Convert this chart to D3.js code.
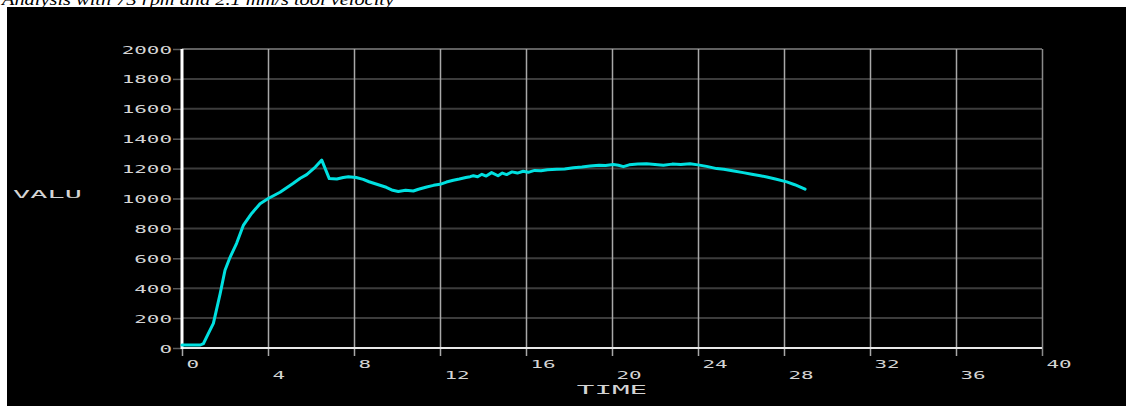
<!DOCTYPE html>
<html>
<head>
<meta charset="utf-8">
<script src="https://cdn.jsdelivr.net/npm/d3@7/dist/d3.min.js"></script>
<style>
  html, body { margin: 0; padding: 0; background: #fff; }
  svg { display: block; }
</style>
</head>
<body>
<svg id="chart" width="1126" height="406"></svg>
<script>
// Spindle response over time
const time = [0, 0.85, 1.0, 1.2, 1.46, 1.77, 2.0, 2.23, 2.54, 2.85, 3.24, 3.63, 4.01, 4.56, 5.16, 5.5, 5.8, 6.2, 6.5,
  6.85, 7.2, 7.5, 7.74, 8.1, 8.43, 8.7, 9.06, 9.5, 9.8, 10.06, 10.4, 10.76, 11.0, 11.38, 11.7, 12.0, 12.3, 12.62,
  12.9, 13.2, 13.4, 13.55, 13.75, 13.95, 14.15, 14.4, 14.7, 14.9, 15.1, 15.35, 15.6, 15.87, 16.1, 16.4, 16.7, 17.0,
  17.43, 17.8, 18.2, 18.6, 18.98, 19.4, 19.7, 20.06, 20.3, 20.53, 20.8, 21.2, 21.61, 22.0, 22.39, 22.8, 23.2, 23.63,
  24.0, 24.4, 24.87, 25.2, 25.6, 26.1, 26.5, 26.9, 27.2, 27.6, 28.13, 28.5, 28.98];
const valu = [20, 20, 30, 90, 165, 360, 520, 605, 700, 820, 900, 965, 1000, 1042, 1100, 1135, 1160, 1210, 1257,
  1133, 1130, 1140, 1145, 1140, 1128, 1112, 1095, 1075, 1055, 1047, 1055, 1050, 1062, 1077, 1088, 1095, 1110, 1122,
  1130, 1140, 1146, 1152, 1145, 1162, 1150, 1173, 1152, 1170, 1160, 1178, 1170, 1182, 1175, 1188, 1185, 1192,
  1195, 1198, 1205, 1210, 1217, 1222, 1220, 1227, 1222, 1213, 1225, 1230, 1233, 1228, 1222, 1230, 1228, 1233,
  1225, 1215, 1200, 1195, 1185, 1173, 1162, 1152, 1144, 1130, 1111, 1092, 1062];

const xTicks = [0, 4, 8, 12, 16, 20, 24, 28, 32, 36, 40];
const xTickLabels = ["0", "4", "8", "12", "16", "20", "24", "28", "32", "36", "40"];
const yTicks = [0, 200, 400, 600, 800, 1000, 1200, 1400, 1600, 1800, 2000];
const yTickLabels = ["0", "200", "400", "600", "800", "1000", "1200", "1400", "1600", "1800", "2000"];

const titleText = "Analysis with 73 rpm and 2.1 mm/s tool velocity";
const xTitle = "TIME";
const yTitle = "VALU";

const svg = d3.select("#chart");
const W = 1126, H = 406;

const x = d3.scaleLinear().domain([0, 40]).range([182, 1042]);
const y = d3.scaleLinear().domain([0, 2000]).range([348, 49]);

const mono = "'DejaVu Sans Mono', 'Liberation Mono', monospace";
const labelColor = "#d4d4d4";

// caption above the black panel
svg.append("text")
  .attr("x", 2).attr("y", 4.5)
  .attr("font-family", "'Liberation Serif', 'Times New Roman', serif")
  .attr("font-style", "italic")
  .attr("font-size", 17)
  .attr("textLength", 392)
  .attr("lengthAdjust", "spacingAndGlyphs")
  .attr("fill", "#000")
  .text(titleText);

// black panel
svg.append("rect")
  .attr("x", 7).attr("y", 7)
  .attr("width", W - 7).attr("height", H - 7)
  .attr("fill", "#000");

// horizontal grid lines
svg.append("g").selectAll("line")
  .data(yTicks.filter(d => d > 0 && d < 2000))
  .join("line")
  .attr("x1", x(0)).attr("x2", x(40))
  .attr("y1", d => y(d)).attr("y2", d => y(d))
  .attr("stroke", "#3c3c3c").attr("stroke-width", 2);

// top and right frame
svg.append("line")
  .attr("x1", x(0)).attr("x2", x(40)).attr("y1", y(2000)).attr("y2", y(2000))
  .attr("stroke", "#808080").attr("stroke-width", 1.5);

// y axis
const yAxis = d3.axisLeft(y).tickValues(yTicks).tickSize(9).tickFormat((d, i) => yTickLabels[i]);
const gy = svg.append("g").attr("transform", `translate(${x(0)},0)`).call(yAxis);
gy.select(".domain").remove();
gy.selectAll(".tick line").attr("stroke", "#5a5a5a").attr("stroke-width", 1.5);
gy.selectAll(".tick text")
  .attr("x", null).attr("dy", null)
  .attr("transform", "translate(-10,4) scale(1.9,1)")
  .attr("text-anchor", "end")
  .attr("font-family", mono).attr("font-size", 11)
  .attr("fill", labelColor);

// x axis: vertical grid lines through the plot and tick marks below it
const xAxis = d3.axisBottom(x).tickValues(xTicks).tickSize(9).tickFormat((d, i) => xTickLabels[i]);
const gx = svg.append("g").attr("transform", `translate(0,${y(0)})`).call(xAxis);
gx.select(".domain").remove();
gx.selectAll(".tick line")
  .attr("y1", d => (d === 0 ? 0 : y(2000) - y(0)))
  .attr("y2", 8)
  .attr("stroke", d => (d === 40 ? "#8a8a8a" : "#a8a8a8"))
  .attr("stroke-width", 1.5);
gx.selectAll(".tick text")
  .attr("y", null).attr("dy", null)
  .attr("transform", (d, i) => `translate(4,${i % 2 === 0 ? 20 : 31}) scale(1.9,1)`)
  .attr("text-anchor", "start")
  .attr("font-family", mono).attr("font-size", 11)
  .attr("fill", labelColor);

// axis lines
svg.append("line")
  .attr("x1", x(0)).attr("x2", x(40)).attr("y1", y(0)).attr("y2", y(0))
  .attr("stroke", "#e8e8e8").attr("stroke-width", 2.2);
svg.append("line")
  .attr("x1", x(0)).attr("x2", x(0)).attr("y1", y(2000)).attr("y2", y(0) + 1)
  .attr("stroke", "#ffffff").attr("stroke-width", 3);

// axis titles
svg.append("text")
  .attr("transform", "translate(13,198) scale(2.6,1)")
  .attr("font-family", mono).attr("font-size", 11)
  .attr("fill", labelColor)
  .text(yTitle);
svg.append("text")
  .attr("transform", `translate(${(x(0) + x(40)) / 2},394) scale(2.25,1)`)
  .attr("text-anchor", "middle")
  .attr("font-family", mono).attr("font-size", 13)
  .attr("fill", labelColor)
  .text(xTitle);

// data line
const line = d3.line()
  .x((d, i) => x(time[i]))
  .y(d => y(d));
svg.append("path")
  .datum(valu)
  .attr("d", line)
  .attr("fill", "none")
  .attr("stroke", "#00e0e0")
  .attr("stroke-width", 3)
  .attr("stroke-linejoin", "round")
  .attr("stroke-linecap", "round");
</script>
</body>
</html>
